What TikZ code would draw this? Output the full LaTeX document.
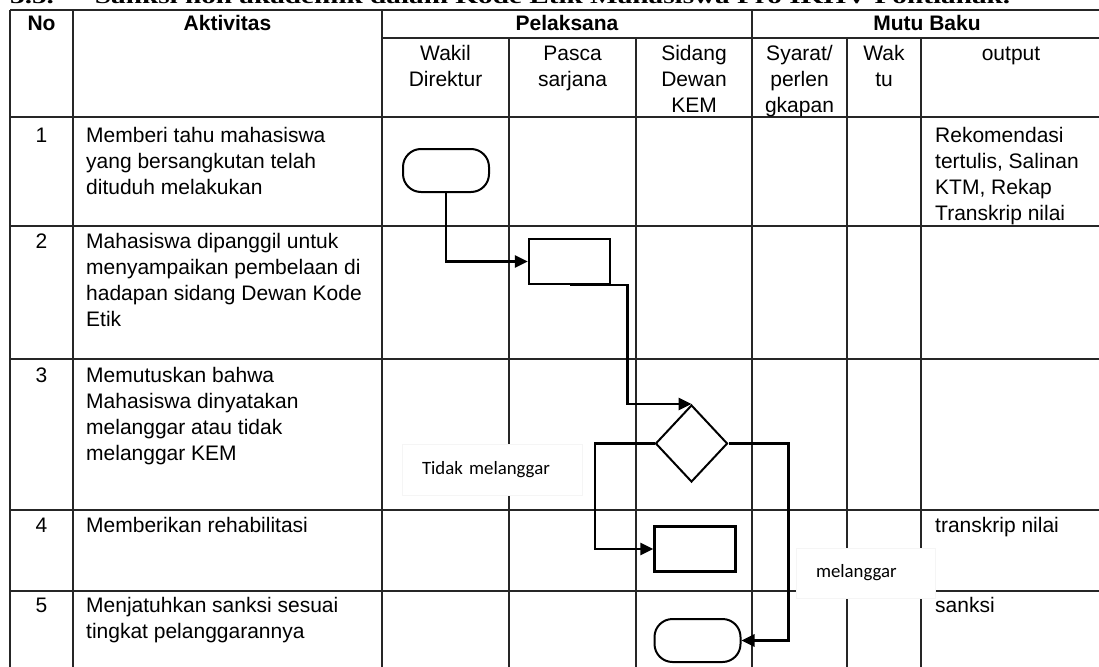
\documentclass[tikz,border=0pt]{standalone}
\usepackage{graphicx}
\usepackage{fontspec}
\setmainfont{Liberation Sans}
\newfontfamily\titlefont{Liberation Serif}
\newfontfamily\notefont{Carlito}
\usetikzlibrary{arrows.meta,shapes.geometric,calc}

% cell texts: first baseline sits on the node's base anchor
\newcommand\lefttext[1]{\parbox[t]{330pt}{\raggedright\fontsize{21}{26}\selectfont #1}}
\newcommand\midtext[2]{\parbox[t]{#1}{\centering\fontsize{21}{26}\selectfont #2}}

\begin{document}
\begin{tikzpicture}[x=1pt,y=-1pt,
  every node/.style={font=\fontsize{21}{26}\selectfont},
  grid/.style={line width=1.8pt,draw=black!85},
  term/.style={draw,line width=2pt,rounded corners=18pt,minimum width=86pt,minimum height=43pt,inner sep=0pt},
  act/.style={draw,line width=2.2pt,minimum width=81pt,minimum height=45pt,inner sep=0pt},
  dec/.style={draw,diamond,line width=2pt,minimum width=72pt,minimum height=77pt,inner sep=0pt},
  flow/.style={line width=2.6pt,-{Triangle[length=13pt,width=12pt]}},
  note/.style={fill=white,draw=black!4,line width=0.8pt,font=\notefont\fontsize{18.8}{22}\selectfont,
    align=left,inner xsep=20pt,inner ysep=0pt},
  cell/.style={anchor=base west,inner sep=0pt},
  ctr/.style={anchor=base,inner sep=0pt},
]
\useasboundingbox (0,0) rectangle (1099,666);
\clip (0,0) rectangle (1099,666);

% caption above the table
\node[anchor=base west,inner sep=0pt] (title) at (10,4)
  {\resizebox{1000pt}{14.5pt}{\titlefont\bfseries 3.5.\hspace{1.4em}Sanksi non akademik dalam Kode Etik Mahasiswa Pro IKHV Pontianak.}};

% table rules
\draw[grid] (10,10) -- (1102,10);
\draw[grid] (382,38) -- (1102,38);
\foreach \y in {117,226,359,510,591} \draw[grid] (10,\y) -- (1102,\y);
\foreach \x in {10,73,382,752,1102} \draw[grid] (\x,10) -- (\x,680);
\foreach \x in {509,636,847,921} \draw[grid] (\x,38) -- (\x,680);

% header
\node[ctr] (hNo)  at (41.5,31) {\bfseries No};
\node[ctr] (hAkt) at (227.5,31) {\bfseries Aktivitas};
\node[ctr] (hPel) at (567,31) {\bfseries Pelaksana};
\node[ctr] (hMut) at (927,31) {\bfseries Mutu Baku};
\node[ctr] (hWak) at (445.5,61) {\midtext{120pt}{Wakil\\Direktur}};
\node[ctr] (hPas) at (572.5,61) {\midtext{120pt}{Pasca\\sarjana}};
\node[ctr] (hSid) at (694,61) {\midtext{110pt}{Sidang\\Dewan\\KEM}};
\node[ctr] (hSya) at (799.5,61) {\midtext{90pt}{Syarat/\\perlen\\gkapan}};
\node[ctr] (hWkt) at (884,61) {\midtext{70pt}{Wak\\tu}};
\node[ctr] (hOut) at (1011,61) {\midtext{170pt}{output}};

% rows
\node[ctr] (n1) at (41.5,142) {1};
\node[ctr] (n2) at (41.5,248) {2};
\node[ctr] (n3) at (41.5,382) {3};
\node[ctr] (n4) at (41.5,532) {4};
\node[ctr] (n5) at (41.5,612) {5};

\node[cell] (a1) at (86,142) {\lefttext{Memberi tahu mahasiswa\\yang bersangkutan telah\\dituduh melakukan}};
\node[cell] (a2) at (86,248) {\lefttext{Mahasiswa dipanggil untuk\\menyampaikan pembelaan di\\hadapan sidang Dewan Kode\\Etik}};
\node[cell] (a3) at (86,382) {\lefttext{Memutuskan bahwa\\Mahasiswa dinyatakan\\melanggar atau tidak\\melanggar KEM}};
\node[cell] (a4) at (86,532) {\lefttext{Memberikan rehabilitasi}};
\node[cell] (a5) at (86,612) {\lefttext{Menjatuhkan sanksi sesuai\\tingkat pelanggarannya}};

\node[cell] (o1) at (935,142) {\lefttext{Rekomendasi\\tertulis, Salinan\\KTM, Rekap\\Transkrip nilai}};
\node[cell] (o4) at (935,532) {\lefttext{transkrip nilai}};
\node[cell] (o5) at (935,612) {\lefttext{sanksi}};

% branch labels
\node[note,text width=140pt,minimum height=51pt] (lTidak) at (492,470) {Tidak melanggar};
\node[note,text width=99pt,minimum height=50pt] (lYa) at (865.5,573) {melanggar};

% flow
\node[term] (t1) at (446,170.5) {};
\node[act]  (b1) at (569.5,261.5) {};
\node[dec]  (d)  at (691.5,443.5) {};
\node[act]  (b2) at (695,549) {};
\node[term] (t2) at (697.5,640.5) {};

\draw[flow] (t1.south) |- (b1.west);
\draw[flow] (b1.south) -- ([xshift=16.5pt]b1.south east) |- (d.north);
\draw[flow] (d.west) -| ([xshift=-58.6pt]b2.west) -- (b2.west);
\draw[flow] (d.east) -| ([xshift=47pt]t2.east) -- (t2.east);
\end{tikzpicture}
\end{document}
